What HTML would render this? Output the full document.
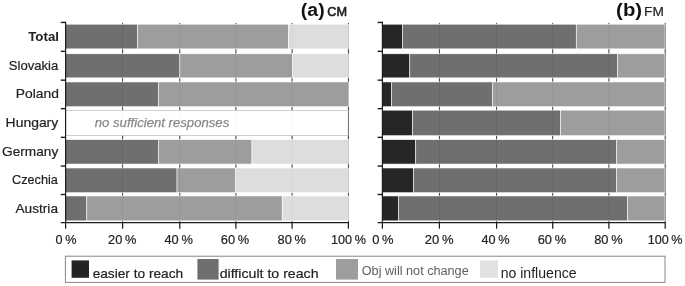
<!DOCTYPE html>
<html><head><meta charset="utf-8"><title>chart</title>
<style>
html,body{margin:0;padding:0;background:#fff;}
svg{display:block;font-family:"Liberation Sans","DejaVu Sans",sans-serif;}
</style></head><body>
<svg width="685" height="286" viewBox="0 0 685 286">
<rect width="685" height="286" fill="#fff"/>
<line x1="122.60" y1="22.849999999999998" x2="122.60" y2="222.6" stroke="#3a3a3a" stroke-width="1.0"/>
<line x1="179.80" y1="22.849999999999998" x2="179.80" y2="222.6" stroke="#3a3a3a" stroke-width="1.0"/>
<line x1="235.90" y1="22.849999999999998" x2="235.90" y2="222.6" stroke="#3a3a3a" stroke-width="1.0"/>
<line x1="292.10" y1="22.849999999999998" x2="292.10" y2="222.6" stroke="#3a3a3a" stroke-width="1.0"/>
<line x1="348.40" y1="22.849999999999998" x2="348.40" y2="222.6" stroke="#3a3a3a" stroke-width="1.0"/>
<rect x="65.60" y="24.20" width="72.11" height="24.67" fill="#696969" fill-opacity="0.96" stroke="#fff" stroke-opacity="0.96" stroke-width="0.6"/>
<rect x="137.71" y="24.20" width="150.59" height="24.67" fill="#999999" fill-opacity="0.96" stroke="#fff" stroke-opacity="0.96" stroke-width="0.6"/>
<rect x="288.30" y="24.20" width="60.09" height="24.67" fill="#dcdcdc" fill-opacity="0.96" stroke="#fff" stroke-opacity="0.96" stroke-width="0.6"/>
<rect x="65.60" y="53.80" width="114.25" height="24.07" fill="#696969" fill-opacity="0.96" stroke="#fff" stroke-opacity="0.96" stroke-width="0.6"/>
<rect x="179.85" y="53.80" width="112.84" height="24.07" fill="#999999" fill-opacity="0.96" stroke="#fff" stroke-opacity="0.96" stroke-width="0.6"/>
<rect x="292.69" y="53.80" width="55.71" height="24.07" fill="#dcdcdc" fill-opacity="0.96" stroke="#fff" stroke-opacity="0.96" stroke-width="0.6"/>
<rect x="65.60" y="81.96" width="92.76" height="24.74" fill="#696969" fill-opacity="0.96" stroke="#fff" stroke-opacity="0.96" stroke-width="0.6"/>
<rect x="158.36" y="81.96" width="190.04" height="24.74" fill="#999999" fill-opacity="0.96" stroke="#fff" stroke-opacity="0.96" stroke-width="0.6"/>
<rect x="65.60" y="110.47" width="282.80" height="24.93" fill="#fff" fill-opacity="0.96" stroke="#c4c4c4" stroke-width="0.8"/>
<line x1="348.40" y1="110.47" x2="348.40" y2="135.40" stroke="#6a6a6a" stroke-width="0.9"/>
<rect x="65.60" y="139.66" width="92.76" height="24.40" fill="#696969" fill-opacity="0.96" stroke="#fff" stroke-opacity="0.96" stroke-width="0.6"/>
<rect x="158.36" y="139.66" width="93.61" height="24.40" fill="#999999" fill-opacity="0.96" stroke="#fff" stroke-opacity="0.96" stroke-width="0.6"/>
<rect x="251.97" y="139.66" width="96.43" height="24.40" fill="#dcdcdc" fill-opacity="0.96" stroke="#fff" stroke-opacity="0.96" stroke-width="0.6"/>
<rect x="65.60" y="168.00" width="111.42" height="24.70" fill="#696969" fill-opacity="0.96" stroke="#fff" stroke-opacity="0.96" stroke-width="0.6"/>
<rect x="177.02" y="168.00" width="58.26" height="24.70" fill="#999999" fill-opacity="0.96" stroke="#fff" stroke-opacity="0.96" stroke-width="0.6"/>
<rect x="235.28" y="168.00" width="113.12" height="24.70" fill="#dcdcdc" fill-opacity="0.96" stroke="#fff" stroke-opacity="0.96" stroke-width="0.6"/>
<rect x="65.60" y="195.96" width="21.21" height="24.89" fill="#696969" fill-opacity="0.96" stroke="#fff" stroke-opacity="0.96" stroke-width="0.6"/>
<rect x="86.81" y="195.96" width="195.41" height="24.89" fill="#999999" fill-opacity="0.96" stroke="#fff" stroke-opacity="0.96" stroke-width="0.6"/>
<rect x="282.22" y="195.96" width="66.18" height="24.89" fill="#dcdcdc" fill-opacity="0.96" stroke="#fff" stroke-opacity="0.96" stroke-width="0.6"/>
<line x1="65.60" y1="21.849999999999998" x2="65.60" y2="223.2" stroke="#1c1c1c" stroke-width="1.2"/>
<line x1="60.80" y1="222.6" x2="349.00" y2="222.6" stroke="#1c1c1c" stroke-width="1.3"/>
<line x1="60.80" y1="22.45" x2="65.60" y2="22.45" stroke="#1c1c1c" stroke-width="1.4"/>
<line x1="60.80" y1="51.37" x2="65.60" y2="51.37" stroke="#1c1c1c" stroke-width="1.4"/>
<line x1="60.80" y1="80.16" x2="65.60" y2="80.16" stroke="#1c1c1c" stroke-width="1.4"/>
<line x1="60.80" y1="108.65" x2="65.60" y2="108.65" stroke="#1c1c1c" stroke-width="1.4"/>
<line x1="60.80" y1="137.37" x2="65.60" y2="137.37" stroke="#1c1c1c" stroke-width="1.4"/>
<line x1="60.80" y1="166.07" x2="65.60" y2="166.07" stroke="#1c1c1c" stroke-width="1.4"/>
<line x1="60.80" y1="194.50" x2="65.60" y2="194.50" stroke="#1c1c1c" stroke-width="1.4"/>
<line x1="65.60" y1="222.6" x2="65.60" y2="228.7" stroke="#1c1c1c" stroke-width="1.25"/>
<line x1="122.60" y1="222.6" x2="122.60" y2="228.7" stroke="#1c1c1c" stroke-width="1.25"/>
<line x1="179.80" y1="222.6" x2="179.80" y2="228.7" stroke="#1c1c1c" stroke-width="1.25"/>
<line x1="235.90" y1="222.6" x2="235.90" y2="228.7" stroke="#1c1c1c" stroke-width="1.25"/>
<line x1="292.10" y1="222.6" x2="292.10" y2="228.7" stroke="#1c1c1c" stroke-width="1.25"/>
<line x1="348.40" y1="222.6" x2="348.40" y2="228.7" stroke="#1c1c1c" stroke-width="1.25"/>
<line x1="439.40" y1="22.849999999999998" x2="439.40" y2="222.6" stroke="#3a3a3a" stroke-width="1.0"/>
<line x1="496.60" y1="22.849999999999998" x2="496.60" y2="222.6" stroke="#3a3a3a" stroke-width="1.0"/>
<line x1="552.70" y1="22.849999999999998" x2="552.70" y2="222.6" stroke="#3a3a3a" stroke-width="1.0"/>
<line x1="608.90" y1="22.849999999999998" x2="608.90" y2="222.6" stroke="#3a3a3a" stroke-width="1.0"/>
<line x1="665.20" y1="22.849999999999998" x2="665.20" y2="222.6" stroke="#3a3a3a" stroke-width="1.0"/>
<rect x="382.40" y="24.20" width="20.06" height="24.67" fill="#1d1d1d" fill-opacity="0.96" stroke="#fff" stroke-opacity="0.96" stroke-width="0.6"/>
<rect x="402.46" y="24.20" width="173.80" height="24.67" fill="#696969" fill-opacity="0.96" stroke="#fff" stroke-opacity="0.96" stroke-width="0.6"/>
<rect x="576.26" y="24.20" width="88.74" height="24.67" fill="#999999" fill-opacity="0.96" stroke="#fff" stroke-opacity="0.96" stroke-width="0.6"/>
<rect x="382.40" y="53.80" width="27.41" height="24.07" fill="#1d1d1d" fill-opacity="0.96" stroke="#fff" stroke-opacity="0.96" stroke-width="0.6"/>
<rect x="409.81" y="53.80" width="207.71" height="24.07" fill="#696969" fill-opacity="0.96" stroke="#fff" stroke-opacity="0.96" stroke-width="0.6"/>
<rect x="617.52" y="53.80" width="47.48" height="24.07" fill="#999999" fill-opacity="0.96" stroke="#fff" stroke-opacity="0.96" stroke-width="0.6"/>
<rect x="382.40" y="81.96" width="9.33" height="24.74" fill="#1d1d1d" fill-opacity="0.96" stroke="#fff" stroke-opacity="0.96" stroke-width="0.6"/>
<rect x="391.73" y="81.96" width="101.03" height="24.74" fill="#696969" fill-opacity="0.96" stroke="#fff" stroke-opacity="0.96" stroke-width="0.6"/>
<rect x="492.76" y="81.96" width="172.24" height="24.74" fill="#999999" fill-opacity="0.96" stroke="#fff" stroke-opacity="0.96" stroke-width="0.6"/>
<rect x="382.40" y="110.17" width="30.24" height="25.53" fill="#1d1d1d" fill-opacity="0.96" stroke="#fff" stroke-opacity="0.96" stroke-width="0.6"/>
<rect x="412.64" y="110.17" width="147.80" height="25.53" fill="#696969" fill-opacity="0.96" stroke="#fff" stroke-opacity="0.96" stroke-width="0.6"/>
<rect x="560.44" y="110.17" width="104.56" height="25.53" fill="#999999" fill-opacity="0.96" stroke="#fff" stroke-opacity="0.96" stroke-width="0.6"/>
<rect x="382.40" y="139.66" width="33.35" height="24.40" fill="#1d1d1d" fill-opacity="0.96" stroke="#fff" stroke-opacity="0.96" stroke-width="0.6"/>
<rect x="415.75" y="139.66" width="200.65" height="24.40" fill="#696969" fill-opacity="0.96" stroke="#fff" stroke-opacity="0.96" stroke-width="0.6"/>
<rect x="616.39" y="139.66" width="48.61" height="24.40" fill="#999999" fill-opacity="0.96" stroke="#fff" stroke-opacity="0.96" stroke-width="0.6"/>
<rect x="382.40" y="168.00" width="31.09" height="24.70" fill="#1d1d1d" fill-opacity="0.96" stroke="#fff" stroke-opacity="0.96" stroke-width="0.6"/>
<rect x="413.49" y="168.00" width="202.91" height="24.70" fill="#696969" fill-opacity="0.96" stroke="#fff" stroke-opacity="0.96" stroke-width="0.6"/>
<rect x="616.39" y="168.00" width="48.61" height="24.70" fill="#999999" fill-opacity="0.96" stroke="#fff" stroke-opacity="0.96" stroke-width="0.6"/>
<rect x="382.40" y="195.96" width="16.11" height="24.89" fill="#1d1d1d" fill-opacity="0.96" stroke="#fff" stroke-opacity="0.96" stroke-width="0.6"/>
<rect x="398.51" y="195.96" width="229.19" height="24.89" fill="#696969" fill-opacity="0.96" stroke="#fff" stroke-opacity="0.96" stroke-width="0.6"/>
<rect x="627.70" y="195.96" width="37.30" height="24.89" fill="#999999" fill-opacity="0.96" stroke="#fff" stroke-opacity="0.96" stroke-width="0.6"/>
<line x1="382.40" y1="21.849999999999998" x2="382.40" y2="223.2" stroke="#1c1c1c" stroke-width="1.2"/>
<line x1="377.60" y1="222.6" x2="665.60" y2="222.6" stroke="#1c1c1c" stroke-width="1.3"/>
<line x1="377.60" y1="22.45" x2="382.40" y2="22.45" stroke="#1c1c1c" stroke-width="1.4"/>
<line x1="377.60" y1="51.37" x2="382.40" y2="51.37" stroke="#1c1c1c" stroke-width="1.4"/>
<line x1="377.60" y1="80.16" x2="382.40" y2="80.16" stroke="#1c1c1c" stroke-width="1.4"/>
<line x1="377.60" y1="108.65" x2="382.40" y2="108.65" stroke="#1c1c1c" stroke-width="1.4"/>
<line x1="377.60" y1="137.37" x2="382.40" y2="137.37" stroke="#1c1c1c" stroke-width="1.4"/>
<line x1="377.60" y1="166.07" x2="382.40" y2="166.07" stroke="#1c1c1c" stroke-width="1.4"/>
<line x1="377.60" y1="194.50" x2="382.40" y2="194.50" stroke="#1c1c1c" stroke-width="1.4"/>
<line x1="382.40" y1="222.6" x2="382.40" y2="228.7" stroke="#1c1c1c" stroke-width="1.25"/>
<line x1="439.40" y1="222.6" x2="439.40" y2="228.7" stroke="#1c1c1c" stroke-width="1.25"/>
<line x1="496.60" y1="222.6" x2="496.60" y2="228.7" stroke="#1c1c1c" stroke-width="1.25"/>
<line x1="552.70" y1="222.6" x2="552.70" y2="228.7" stroke="#1c1c1c" stroke-width="1.25"/>
<line x1="608.90" y1="222.6" x2="608.90" y2="228.7" stroke="#1c1c1c" stroke-width="1.25"/>
<line x1="665.20" y1="222.6" x2="665.20" y2="228.7" stroke="#1c1c1c" stroke-width="1.25"/>
<rect x="65.4" y="256.2" width="599.6" height="26.2" fill="#fff" stroke="#858585" stroke-width="1"/>
<rect x="71.6" y="260.4" width="17.4" height="17.4" fill="#232323"/>
<rect x="197.4" y="259" width="21.2" height="20.6" fill="#6f6f6f"/>
<rect x="336" y="259" width="22" height="20.6" fill="#9d9d9d"/>
<rect x="480" y="260.4" width="18" height="17.4" fill="#e2e2e2"/>
<text x="28.18" y="41.30" font-size="13.33" textLength="30.82" lengthAdjust="spacingAndGlyphs" font-weight="bold" fill="#222">Total</text>
<text x="8.85" y="69.80" font-size="13.33" textLength="49.45" lengthAdjust="spacingAndGlyphs" fill="#222" stroke="#222" stroke-width="0.2">Slovakia</text>
<text x="15.86" y="98.30" font-size="13.33" textLength="43.05" lengthAdjust="spacingAndGlyphs" fill="#222" stroke="#222" stroke-width="0.2">Poland</text>
<text x="5.64" y="126.60" font-size="13.33" textLength="52.59" lengthAdjust="spacingAndGlyphs" fill="#222" stroke="#222" stroke-width="0.2">Hungary</text>
<text x="2.08" y="155.60" font-size="13.33" textLength="56.23" lengthAdjust="spacingAndGlyphs" fill="#222" stroke="#222" stroke-width="0.2">Germany</text>
<text x="12.07" y="184.20" font-size="13.33" textLength="45.81" lengthAdjust="spacingAndGlyphs" fill="#222" stroke="#222" stroke-width="0.2">Czechia</text>
<text x="15.51" y="213.40" font-size="13.33" textLength="42.48" lengthAdjust="spacingAndGlyphs" fill="#222" stroke="#222" stroke-width="0.2">Austria</text>
<text x="55.55" y="244.00" font-size="13.6" textLength="21.02" lengthAdjust="spacingAndGlyphs" fill="#222" stroke="#222" stroke-width="0.2" word-spacing="-0.9">0 %</text>
<text x="108.09" y="244.00" font-size="13.6" textLength="28.35" lengthAdjust="spacingAndGlyphs" fill="#222" stroke="#222" stroke-width="0.2" word-spacing="-0.9">20 %</text>
<text x="164.44" y="244.00" font-size="13.6" textLength="28.41" lengthAdjust="spacingAndGlyphs" fill="#222" stroke="#222" stroke-width="0.2" word-spacing="-0.9">40 %</text>
<text x="220.86" y="244.00" font-size="13.6" textLength="28.37" lengthAdjust="spacingAndGlyphs" fill="#222" stroke="#222" stroke-width="0.2" word-spacing="-0.9">60 %</text>
<text x="277.54" y="244.00" font-size="13.6" textLength="28.45" lengthAdjust="spacingAndGlyphs" fill="#222" stroke="#222" stroke-width="0.2" word-spacing="-0.9">80 %</text>
<text x="331.01" y="244.00" font-size="13.6" textLength="34.94" lengthAdjust="spacingAndGlyphs" fill="#222" stroke="#222" stroke-width="0.2" word-spacing="-0.9">100 %</text>
<text x="372.16" y="244.00" font-size="13.6" textLength="21.40" lengthAdjust="spacingAndGlyphs" fill="#222" stroke="#222" stroke-width="0.2" word-spacing="-0.9">0 %</text>
<text x="424.68" y="244.00" font-size="13.6" textLength="28.79" lengthAdjust="spacingAndGlyphs" fill="#222" stroke="#222" stroke-width="0.2" word-spacing="-0.9">20 %</text>
<text x="481.54" y="244.00" font-size="13.6" textLength="28.16" lengthAdjust="spacingAndGlyphs" fill="#222" stroke="#222" stroke-width="0.2" word-spacing="-0.9">40 %</text>
<text x="537.63" y="244.00" font-size="13.6" textLength="28.44" lengthAdjust="spacingAndGlyphs" fill="#222" stroke="#222" stroke-width="0.2" word-spacing="-0.9">60 %</text>
<text x="594.14" y="244.00" font-size="13.6" textLength="28.48" lengthAdjust="spacingAndGlyphs" fill="#222" stroke="#222" stroke-width="0.2" word-spacing="-0.9">80 %</text>
<text x="647.63" y="244.00" font-size="13.6" textLength="34.98" lengthAdjust="spacingAndGlyphs" fill="#222" stroke="#222" stroke-width="0.2" word-spacing="-0.9">100 %</text>
<text x="94.75" y="126.50" font-size="13.0" textLength="134.47" lengthAdjust="spacingAndGlyphs" font-style="italic" fill="#888888" stroke="#888888" stroke-width="0.25">no sufficient responses</text>
<text x="300.87" y="16.10" font-size="17.5" textLength="23.77" lengthAdjust="spacingAndGlyphs" font-weight="bold" fill="#111">(a)</text>
<text x="327.22" y="16.00" font-size="12.3" textLength="19.76" lengthAdjust="spacingAndGlyphs" fill="#1e1e1e" stroke="#1e1e1e" stroke-width="0.6">CM</text>
<text x="616.14" y="16.10" font-size="17.5" textLength="25.92" lengthAdjust="spacingAndGlyphs" font-weight="bold" fill="#111">(b)</text>
<text x="644.10" y="15.90" font-size="12.3" textLength="19.76" lengthAdjust="spacingAndGlyphs" fill="#222" stroke="#222" stroke-width="0.2">FM</text>
<text x="92.65" y="277.80" font-size="13.5" textLength="90.51" lengthAdjust="spacingAndGlyphs" fill="#222" stroke="#222" stroke-width="0.2">easier to reach</text>
<text x="219.67" y="277.90" font-size="13.5" textLength="98.89" lengthAdjust="spacingAndGlyphs" fill="#222" stroke="#222" stroke-width="0.2">difficult to reach</text>
<text x="361.78" y="275.00" font-size="12.5" textLength="106.93" lengthAdjust="spacingAndGlyphs" fill="#5e5e5e">Obj will not change</text>
<text x="500.70" y="277.80" font-size="14.0" textLength="75.90" lengthAdjust="spacingAndGlyphs" fill="#222">no influence</text>
</svg>
</body></html>
